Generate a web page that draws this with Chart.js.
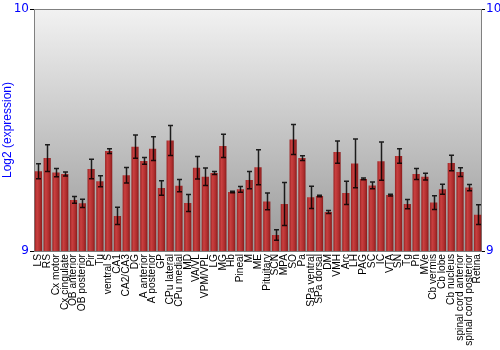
<!DOCTYPE html>
<html>
<head>
<meta charset="utf-8">
<script src="https://cdn.jsdelivr.net/npm/chart.js@4.4.1/dist/chart.umd.min.js"></script>
<style>
  html, body { margin: 0; padding: 0; background: #fff; }
  #wrap { width: 500px; height: 350px; }
</style>
</head>
<body>
<div id="wrap"><canvas id="chart" width="500" height="350"></canvas></div>
<script>
// regiones (eje x)
const regions = ["LS", "RS", "Cx motor", "Cx cingulate", "OB anterior", "OB posterior", "Pir", "Tu",
  "ventral S", "CA1", "CA2/CA3", "DG", "A anterior", "A posterior", "GP", "CPu lateral", "CPu medial",
  "MD", "VA/VL", "VPM/VPL", "LG", "MG", "Hb", "Pineal", "M", "ME", "Pituitary", "SCN", "MPA", "SO",
  "Pa", "SPa ventral", "SPa dorsal", "DM", "VMH", "Arc", "LH", "PAG", "SC", "IC", "VTA", "SN", "Tg",
  "Pn", "MVe", "Cb vermis", "Cb lobe", "Cb nucleus", "spinal cord anterior", "spinal cord posterior", "Retina"];

// log2 expresion media
const expression = [9.330, 9.384, 9.324, 9.318, 9.211, 9.197, 9.339, 9.288,
  9.413, 9.145, 9.313, 9.431, 9.372, 9.423, 9.260, 9.457, 9.270,
  9.198, 9.344, 9.307, 9.322, 9.434, 9.244, 9.255, 9.293, 9.346, 9.205, 9.066, 9.194, 9.461,
  9.384, 9.222, 9.227, 9.161, 9.409, 9.240, 9.362, 9.298, 9.271, 9.371, 9.231, 9.393, 9.194,
  9.318, 9.307, 9.200, 9.255, 9.364, 9.326, 9.262, 9.150];

// desviacion (barras de error)
const errors = [0.031, 0.055, 0.017, 0.008, 0.014, 0.017, 0.040, 0.023,
  0.010, 0.036, 0.032, 0.048, 0.014, 0.049, 0.030, 0.062, 0.025,
  0.035, 0.046, 0.036, 0.006, 0.048, 0.003, 0.012, 0.036, 0.072, 0.035, 0.022, 0.089, 0.062,
  0.010, 0.046, 0.003, 0.006, 0.046, 0.048, 0.101, 0.004, 0.014, 0.079, 0.004, 0.030, 0.019,
  0.023, 0.014, 0.028, 0.021, 0.032, 0.018, 0.013, 0.041];

const yTicks = [9, 10];

const blue = '#0000ff';

// fondo degradado del area de grafico
const bgPlugin = {
  id: 'bgGradient',
  beforeDatasetsDraw(chart) {
    const { ctx, chartArea: a } = chart;
    const g = ctx.createLinearGradient(0, a.top, 0, a.bottom);
    g.addColorStop(0, '#f2f2f2');
    g.addColorStop(1, '#999999');
    ctx.save();
    ctx.fillStyle = g;
    ctx.fillRect(a.left, a.top, a.right - a.left, a.bottom - a.top);
    ctx.strokeStyle = '#808080';
    ctx.lineWidth = 1;
    ctx.strokeRect(a.left + 0.5, a.top + 0.5, a.right - a.left - 1, a.bottom - a.top);
    ctx.restore();
  }
};

// barras de error
const errorPlugin = {
  id: 'errorBars',
  afterDatasetsDraw(chart) {
    const { ctx } = chart;
    const meta = chart.getDatasetMeta(0);
    const y = chart.scales.y;
    ctx.save();
    ctx.strokeStyle = 'rgba(0,0,0,0.85)';
    ctx.lineWidth = 1.5;
    meta.data.forEach((bar, i) => {
      const top = y.getPixelForValue(expression[i] + errors[i]);
      const bot = y.getPixelForValue(expression[i] - errors[i]);
      const x = Math.round(bar.x) + 0.5;
      ctx.beginPath();
      ctx.moveTo(x, top); ctx.lineTo(x, bot);
      ctx.moveTo(x - 2.5, top); ctx.lineTo(x + 2.5, top);
      ctx.moveTo(x - 2.5, bot); ctx.lineTo(x + 2.5, bot);
      ctx.stroke();
    });
    ctx.restore();
  }
};

function barFill(context) {
  const el = context.element;
  if (!el || el.x == null || isNaN(el.x)) return '#b3302f';
  const w = el.width || 7;
  const g = context.chart.ctx.createLinearGradient(el.x - w / 2, 0, el.x + w / 2, 0);
  g.addColorStop(0, '#9a2222');
  g.addColorStop(0.3, '#c94040');
  g.addColorStop(0.7, '#b02e2e');
  g.addColorStop(1, '#8a1c1c');
  return g;
}

const chart = new Chart(document.getElementById('chart'), {
  type: 'bar',
  data: {
    labels: regions,
    datasets: [{
      label: 'Log2 (expression)',
      data: expression,
      backgroundColor: barFill,
      borderWidth: 0,
      barPercentage: 0.82,
      categoryPercentage: 1.0
    }]
  },
  options: {
    responsive: false,
    animation: false,
    layout: { padding: { top: 9, left: 0, right: 0, bottom: 0 } },
    plugins: {
      legend: { display: false },
      tooltip: { enabled: false },
      title: { display: false }
    },
    scales: {
      x: {
        offset: true,
        grid: { display: false, drawTicks: false },
        border: { display: false },
        ticks: {
          autoSkip: false,
          minRotation: 90,
          maxRotation: 90,
          padding: 3,
          color: '#000',
          font: { family: 'Liberation Sans, Arial', size: 10.2 }
        },
        afterFit(scale) { scale.height = 99; }
      },
      y: {
        min: yTicks[0],
        max: yTicks[1],
        afterBuildTicks(scale) { scale.ticks = yTicks.map(v => ({ value: v })); },
        grid: { drawOnChartArea: false, color: '#000', tickLength: 4 },
        border: { display: false },
        ticks: { color: blue, padding: 1, font: { family: 'DejaVu Sans', size: 12 } },
        title: {
          display: true,
          text: 'Log2 (expression)',
          color: blue,
          padding: 0,
          font: { family: 'Liberation Sans, Arial', size: 12 }
        },
        afterFit(scale) { scale.width = 34; }
      },
      y2: {
        position: 'right',
        min: yTicks[0],
        max: yTicks[1],
        afterBuildTicks(scale) { scale.ticks = yTicks.map(v => ({ value: v })); },
        grid: { drawOnChartArea: false, color: '#000', tickLength: 3 },
        border: { display: false },
        ticks: { color: blue, padding: 1, font: { family: 'DejaVu Sans', size: 12 } },
        afterFit(scale) { scale.width = 18; }
      }
    }
  },
  plugins: [bgPlugin, errorPlugin]
});
// segundo update para que el degradado de las barras tenga posiciones
chart.update();
</script>
</body>
</html>
